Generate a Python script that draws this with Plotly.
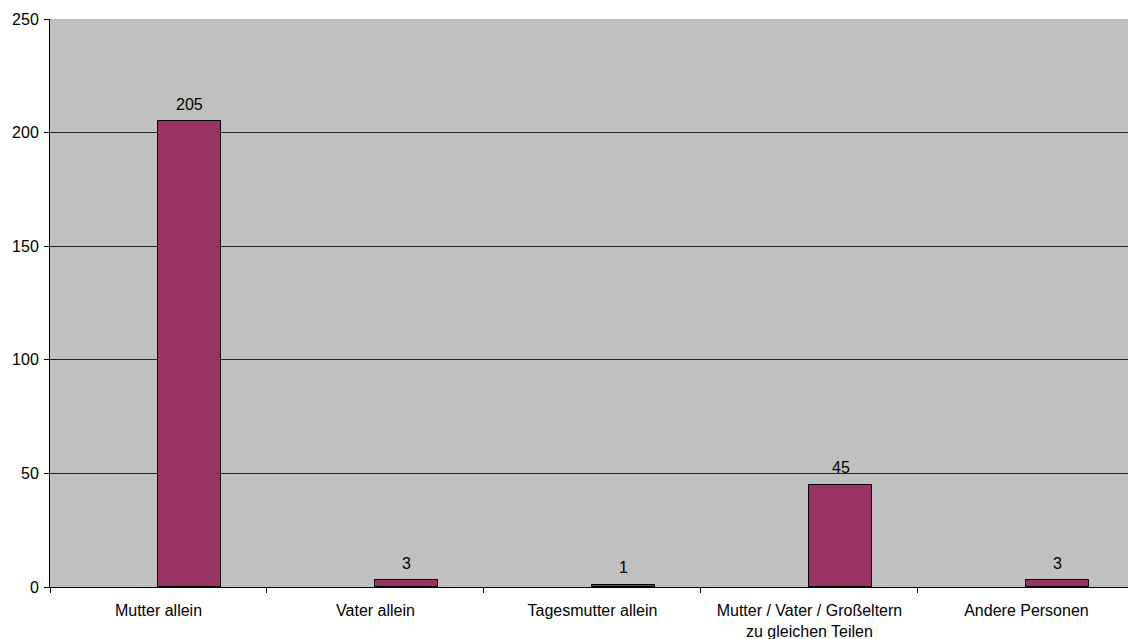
import plotly.graph_objects as go

categories = ["Mutter allein", "Vater allein", "Tagesmutter allein",
              "Mutter / Vater / Großeltern<br>zu gleichen Teilen", "Andere Personen"]
values = [205, 3, 1, 45, 3]
y_ticks = [0, 50, 100, 150, 200, 250]

BAR_W = 0.29
FONT = "Liberation Sans, Arial, sans-serif"

fig = go.Figure()
fig.add_trace(go.Bar(
    x=categories, y=values,
    offset=0, width=BAR_W,
    marker=dict(color="#993366", line=dict(color="#000000", width=1)),
    hoverinfo="x+y",
))

for c, v in zip(categories, values):
    fig.add_annotation(
        x=c, y=v, xref="x", yref="y",
        text=str(v), showarrow=False,
        xshift=31.5, yshift=17, yanchor="middle",
        font=dict(family=FONT, size=16, color="#000000"),
    )

fig.update_layout(
    width=1128, height=639,
    margin=dict(l=50, r=0, t=19, b=52),
    paper_bgcolor="#ffffff",
    plot_bgcolor="#c0c0c0",
    showlegend=False,
    font=dict(family=FONT, size=16, color="#000000"),
    bargap=0,
)
fig.update_xaxes(
    type="category",
    range=[-0.5, 4.468],
    showline=True, linecolor="#000000", linewidth=1,
    ticks="outside", tickson="boundaries", ticklen=5, tickcolor="#000000",
    ticklabelstandoff=9,
    showgrid=False,
    tickfont=dict(size=16),
)
fig.update_yaxes(
    range=[0, 250],
    tickvals=y_ticks,
    showline=True, linecolor="#000000", linewidth=1,
    ticks="outside", ticklen=5, tickcolor="#000000",
    ticklabelstandoff=2,
    showgrid=True, gridcolor="#222222", gridwidth=1,
    zeroline=False,
    tickfont=dict(size=16),
)

fig.write_html("out.html")
